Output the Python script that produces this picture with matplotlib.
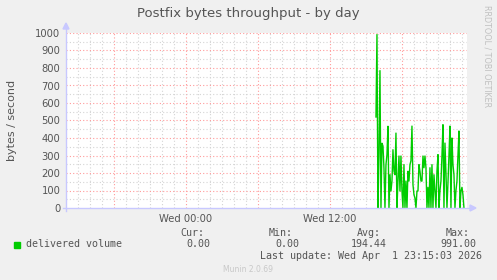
import matplotlib
matplotlib.use('Agg')
from matplotlib import pyplot as plt
import numpy as np

# delivered volume, bytes/s, one sample every 5 minutes starting Wed 15:50
volume = [520, 991, 0, 310, 785, 0, 370, 354, 228, 0,
          248, 305, 467, 0, 190, 97, 154, 333, 210, 190,
          428, 0, 154, 297, 97, 297, 97, 0, 248, 0,
          154, 0, 210, 154, 248, 270, 468, 133, 76, 57,
          0, 97, 97, 248, 210, 154, 154, 297, 230, 297,
          230, 0, 118, 0, 230, 0, 248, 0, 190, 100,
          0, 210, 305, 0, 100, 154, 300, 476, 0, 371,
          200, 0, 143, 300, 468, 0, 400, 248, 190, 0,
          100, 154, 300, 440, 0, 97, 118, 76, 0]
start_hour = 15 + 50 / 60          # hours after Wed 00:00
step_hour = 5 / 60

x_min, x_max = -10.0, 23.42       # Tue 14:00 .. Wed 23:25
tick_hours = [0, 12]
tick_labels = ['Wed 00:00', 'Wed 12:00']

legend_cols = ['Cur:', 'Min:', 'Avg:', 'Max:']
legend_vals = ['0.00', '0.00', '194.44', '991.00']

W, H = 497, 280
bg = '#f0f0f0'
txt = '#555555'

fig = plt.figure(figsize=(W / 100, H / 100), dpi=100, facecolor=bg)
ax = fig.add_axes([66 / W, 72 / H, 401 / W, 175 / H])
ax.set_facecolor('white')

times = start_hour + step_hour * np.arange(len(volume))
ax.plot(times, volume, color='#00cc00', linewidth=1, zorder=3)

ax.set_xlim(x_min, x_max)
ax.set_ylim(0, 1000)

# grid like rrdtool: gray minor, red major
for h in np.arange(-9, 24, 1):
    c = '#ff9a9a' if h % 6 == 0 else '#d4d4d4'
    ax.axvline(h, color=c, linestyle=(0, (1, 2)), linewidth=0.8, zorder=1)
for v in np.arange(50, 1001, 50):
    c = '#ff9a9a' if v % 100 == 0 else '#d4d4d4'
    ax.axhline(v, color=c, linestyle=(0, (1, 2)), linewidth=0.8, zorder=1)

for s in ax.spines.values():
    s.set_visible(False)
ax.set_xticks(tick_hours)
ax.set_xticklabels(tick_labels, fontsize=7.2, color=txt)
ax.set_yticks(np.arange(0, 1001, 100))
ax.set_yticklabels([str(v) for v in range(0, 1001, 100)], fontsize=7.2, color=txt)
ax.tick_params(length=0, pad=4)
ax.set_ylabel('bytes / second', fontsize=8, color=txt)
ax.yaxis.set_label_coords(-49 / 401, 0.5)

# axis lines with arrows
axis_col = '#c8c8ff'
fig.add_artist(plt.Line2D([63 / W, 470 / W], [72 / H, 72 / H], color=axis_col, lw=1))
fig.add_artist(plt.Line2D([66 / W, 66 / W], [69 / H, 252 / H], color=axis_col, lw=1))
fig.patches.append(plt.Polygon([[470 / W, 69 / H], [470 / W, 75 / H], [476 / W, 72 / H]],
                               transform=fig.transFigure, color=axis_col, figure=fig))
fig.patches.append(plt.Polygon([[63 / W, 251 / H], [69 / W, 251 / H], [66 / W, 257 / H]],
                               transform=fig.transFigure, color=axis_col, figure=fig))

fig.text(248 / W, 1 - 14 / H, 'Postfix bytes throughput - by day', ha='center', va='center',
         fontsize=9.5, color=txt)
fig.text(487 / W, 1 - 56 / H, 'RRDTOOL / TOBI OETIKER', rotation=270, ha='center', va='center',
         fontsize=5.8, color='#c0c0c0')

mono = 'DejaVu Sans Mono'
col_right = [204, 293, 381, 470]
for x, name, val in zip(col_right, legend_cols, legend_vals):
    fig.text(x / W, 1 - 233 / H, name, ha='right', va='center', family=mono, fontsize=7.2, color=txt)
    fig.text((x + 6) / W, 1 - 244 / H, val, ha='right', va='center', family=mono, fontsize=7.2, color=txt)
fig.patches.append(plt.Rectangle((14 / W, 1 - 248 / H), 6 / W, 6 / H, transform=fig.transFigure,
                                 color='#00cc00', figure=fig))
fig.text(26 / W, 1 - 244 / H, 'delivered volume', ha='left', va='center', family=mono, fontsize=7.2, color=txt)
fig.text(482 / W, 1 - 256 / H, 'Last update: Wed Apr  1 23:15:03 2026', ha='right', va='center',
         family=mono, fontsize=7.2, color=txt)
fig.text(248 / W, 1 - 269 / H, 'Munin 2.0.69', ha='center', va='center', fontsize=5.5, color='#c8c8c8')

fig.savefig('out.png', dpi=100, facecolor=bg)
